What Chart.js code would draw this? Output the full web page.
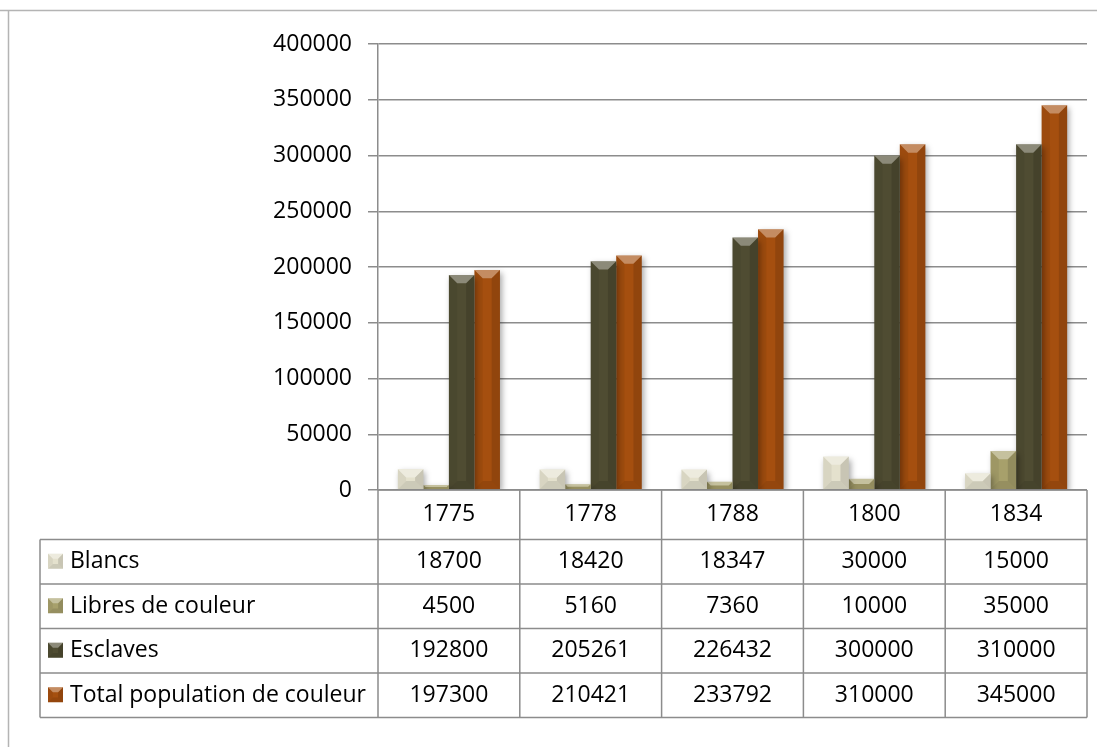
<!DOCTYPE html>
<html>
<head>
<meta charset="utf-8">
<script src="https://cdn.jsdelivr.net/npm/chart.js@4.4.1/dist/chart.umd.min.js"></script>
<style>
  body{margin:0;background:#fff;}
  #wrap{position:relative;width:1097px;height:747px;}
</style>
</head>
<body>
<div id="wrap"><canvas id="chart" width="1097" height="747"></canvas></div>
<script>
// DATA
const years = ["1775","1778","1788","1800","1834"];
const blancs = [18700,18420,18347,30000,15000];
const libres = [4500,5160,7360,10000,35000];
const esclaves = [192800,205261,226432,300000,310000];
const totalCouleur = [197300,210421,233792,310000,345000];
const seriesNames = ["Blancs","Libres de couleur","Esclaves","Total population de couleur"];
const seriesColors = ["#e4e1cd","#a7a06b","#4f4c32","#a54f0f"];
const yTicks = [0,50000,100000,150000,200000,250000,300000,350000,400000];

const FONT = "'Open Sans', sans-serif";
const FSIZE = 23;
const LINE = "#8c8c8c";

// bevel on a rectangle (bars and legend keys)
function bevel(ctx,x0,x1,top,bottom){
  let w = x1-x0, h = bottom-top;
  let d = Math.min(h/2, w/2*0.65);
  if(d<1) return;
  ctx.save();
  ctx.shadowColor="transparent";
  // top
  ctx.fillStyle="rgba(255,255,255,0.35)";
  ctx.beginPath();
  ctx.moveTo(x0,top);ctx.lineTo(x1,top);ctx.lineTo(x1-d,top+d);ctx.lineTo(x0+d,top+d);
  ctx.closePath();ctx.fill();
  // left
  ctx.fillStyle="rgba(0,0,0,0.05)";
  ctx.beginPath();
  ctx.moveTo(x0,top);ctx.lineTo(x0+d,top+d);ctx.lineTo(x0+d,bottom-d);ctx.lineTo(x0,bottom);
  ctx.closePath();ctx.fill();
  // right
  ctx.fillStyle="rgba(0,0,0,0.12)";
  ctx.beginPath();
  ctx.moveTo(x1,top);ctx.lineTo(x1-d,top+d);ctx.lineTo(x1-d,bottom-d);ctx.lineTo(x1,bottom);
  ctx.closePath();ctx.fill();
  // bottom
  ctx.fillStyle="rgba(0,0,0,0.10)";
  ctx.beginPath();
  ctx.moveTo(x0,bottom);ctx.lineTo(x0+d,bottom-d);ctx.lineTo(x1-d,bottom-d);ctx.lineTo(x1,bottom);
  ctx.closePath();ctx.fill();
  ctx.restore();
}

// outer frame
const framePlugin = {
  id:"frame",
  beforeDraw(c){
    let ctx=c.ctx;
    ctx.save();
    ctx.fillStyle="#fff";
    ctx.fillRect(0,0,c.width,c.height);
    ctx.strokeStyle="#b4b4b4";
    ctx.lineWidth=1.5;
    ctx.beginPath();
    ctx.moveTo(0,10.5);ctx.lineTo(c.width,10.5);
    ctx.moveTo(8.5,10.5);ctx.lineTo(8.5,c.height);
    ctx.stroke();
    ctx.restore();
  }
};

// shadows + bevel on bars
const barPlugin = {
  id:"bars3d",
  beforeDatasetsDraw(c){
    let ctx=c.ctx;
    ctx.save();
    ctx.shadowColor="rgba(0,0,0,0.35)";
    ctx.shadowBlur=6;
    ctx.shadowOffsetX=2;
    ctx.shadowOffsetY=3;
  },
  afterDatasetsDraw(c){
    let ctx=c.ctx;
    ctx.restore();
    c.data.datasets.forEach((ds,i)=>{
      c.getDatasetMeta(i).data.forEach(bar=>{
        let p = bar.getProps(["x","y","base","width"],true);
        bevel(ctx,p.x-p.width/2,p.x+p.width/2,p.y,p.base);
      });
    });
  }
};

// data table under the plot
const tablePlugin = {
  id:"datatable",
  afterDraw(c){
    let ctx=c.ctx, x=c.scales.x, area=c.chartArea;
    let colW = (area.right-area.left)/years.length;
    let cols = years.map((_,i)=>area.left+i*colW);
    cols.push(area.right);
    let tableLeft = 40;
    let headTop = area.bottom, headBot = area.bottom+49.5;
    let rowH = 44.5;
    let rowTops = seriesNames.map((_,i)=>headBot+i*rowH);
    let tableBot = headBot+seriesNames.length*rowH;

    ctx.save();
    ctx.strokeStyle=LINE;
    ctx.lineWidth=1.5;
    ctx.beginPath();
    ctx.moveTo(area.left,headTop);ctx.lineTo(area.right,headTop);
    rowTops.concat([tableBot]).forEach(y=>{
      ctx.moveTo(tableLeft,y);ctx.lineTo(area.right,y);
    });
    cols.forEach(cx=>{
      ctx.moveTo(cx,headTop);ctx.lineTo(cx,tableBot);
    });
    ctx.moveTo(tableLeft,headBot);ctx.lineTo(tableLeft,tableBot);
    ctx.stroke();

    ctx.fillStyle="#000";
    ctx.font=FSIZE+"px "+FONT;
    ctx.textBaseline="middle";
    ctx.textAlign="center";
    years.forEach((yr,i)=>{
      ctx.fillText(yr, x.getPixelForValue(i), (headTop+headBot)/2);
    });
    let allSeries=[blancs,libres,esclaves,totalCouleur];
    allSeries.forEach((vals,r)=>{
      let cy = rowTops[r]+rowH/2;
      vals.forEach((v,i)=>{
        ctx.fillText(String(v), x.getPixelForValue(i), cy);
      });
    });
    ctx.textAlign="left";
    seriesNames.forEach((name,r)=>{
      let cy = rowTops[r]+rowH/2;
      ctx.fillStyle=seriesColors[r];
      ctx.fillRect(48,cy-8,15,15);
      bevel(ctx,48,63,cy-8,cy+7);
      ctx.fillStyle="#000";
      ctx.fillText(name,70,cy);
    });
    ctx.restore();
  }
};

const datasets = [blancs,libres,esclaves,totalCouleur].map((vals,i)=>({
  label:seriesNames[i],
  data:vals,
  backgroundColor:seriesColors[i],
  borderWidth:0,
  categoryPercentage:0.72,
  barPercentage:1
}));

new Chart(document.getElementById("chart"),{
  type:"bar",
  data:{labels:years,datasets:datasets},
  options:{
    responsive:false,
    animation:false,
    layout:{padding:{left:0,right:10,top:44,bottom:257}},
    plugins:{legend:{display:false},tooltip:{enabled:false}},
    scales:{
      x:{display:false},
      y:{
        min:0,max:400000,
        afterFit(s){ s.width=378; },
        afterBuildTicks(s){ s.ticks=yTicks.map(v=>({value:v})); },
        border:{color:LINE,width:1.5},
        grid:{color:LINE,lineWidth:1.5,tickLength:10,drawTicks:true},
        ticks:{
          color:"#000",
          padding:16,
          font:{family:FONT,size:FSIZE},
          callback:v=>String(v)
        }
      }
    }
  },
  plugins:[framePlugin,barPlugin,tablePlugin]
});
</script>
</body>
</html>
